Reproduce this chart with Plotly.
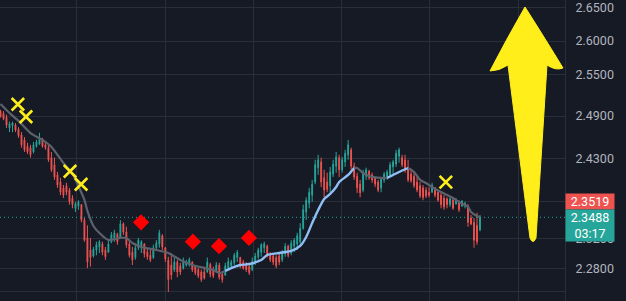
import math
import plotly.graph_objects as go

# ---------------- data ----------------
opens = [2.497, 2.494, 2.488, 2.473, 2.476, 2.477, 2.471, 2.463, 2.456, 2.447,
         2.445, 2.439, 2.447, 2.450, 2.456, 2.449, 2.445, 2.431, 2.421, 2.407,
         2.397, 2.389, 2.392, 2.386, 2.375, 2.361, 2.364, 2.366, 2.345, 2.321,
         2.305, 2.297, 2.305, 2.309, 2.313, 2.305, 2.302, 2.316, 2.321, 2.326,
         2.321, 2.340, 2.329, 2.313, 2.302, 2.295, 2.308, 2.308, 2.313, 2.302,
         2.298, 2.295, 2.308, 2.313, 2.324, 2.308, 2.292, 2.285, 2.279, 2.289,
         2.284, 2.281, 2.285, 2.286, 2.289, 2.283, 2.279, 2.276, 2.276, 2.276,
         2.286, 2.279, 2.276, 2.285, 2.273, 2.272, 2.281, 2.284, 2.288, 2.295,
         2.295, 2.289, 2.286, 2.283, 2.279, 2.289, 2.296, 2.302, 2.308, 2.310,
         2.300, 2.297, 2.295, 2.297, 2.292, 2.300, 2.310, 2.301, 2.310, 2.313,
         2.316, 2.334, 2.356, 2.368, 2.379, 2.397, 2.417, 2.425, 2.403, 2.397,
         2.392, 2.408, 2.419, 2.431, 2.414, 2.425, 2.435, 2.442, 2.419, 2.405,
         2.394, 2.386, 2.405, 2.412, 2.407, 2.403, 2.397, 2.389, 2.400, 2.405,
         2.407, 2.418, 2.422, 2.433, 2.431, 2.428, 2.417, 2.408, 2.405, 2.397,
         2.392, 2.389, 2.386, 2.383, 2.383, 2.389, 2.383, 2.379, 2.375, 2.374,
         2.366, 2.372, 2.367, 2.370, 2.364, 2.364, 2.364, 2.348, 2.342, 2.338,
         2.332]
highs = [2.499, 2.497, 2.492, 2.482, 2.482, 2.480, 2.474, 2.467, 2.460, 2.452,
         2.449, 2.453, 2.456, 2.466, 2.459, 2.452, 2.449, 2.439, 2.431, 2.411,
         2.403, 2.393, 2.396, 2.389, 2.379, 2.370, 2.372, 2.367, 2.348, 2.338,
         2.321, 2.309, 2.316, 2.318, 2.316, 2.309, 2.318, 2.329, 2.332, 2.328,
         2.345, 2.342, 2.336, 2.318, 2.309, 2.314, 2.321, 2.318, 2.314, 2.308,
         2.305, 2.312, 2.318, 2.332, 2.326, 2.309, 2.296, 2.301, 2.295, 2.292,
         2.288, 2.295, 2.292, 2.295, 2.290, 2.285, 2.281, 2.279, 2.283, 2.295,
         2.288, 2.283, 2.289, 2.288, 2.276, 2.288, 2.295, 2.292, 2.301, 2.305,
         2.296, 2.292, 2.289, 2.285, 2.295, 2.301, 2.308, 2.314, 2.316, 2.312,
         2.302, 2.301, 2.298, 2.302, 2.305, 2.314, 2.312, 2.318, 2.321, 2.328,
         2.341, 2.366, 2.376, 2.389, 2.400, 2.428, 2.435, 2.431, 2.414, 2.410,
         2.418, 2.428, 2.439, 2.435, 2.432, 2.442, 2.456, 2.445, 2.424, 2.410,
         2.400, 2.414, 2.417, 2.414, 2.410, 2.404, 2.400, 2.404, 2.411, 2.414,
         2.425, 2.428, 2.442, 2.445, 2.435, 2.435, 2.428, 2.414, 2.410, 2.404,
         2.397, 2.393, 2.390, 2.390, 2.396, 2.390, 2.386, 2.383, 2.379, 2.376,
         2.376, 2.375, 2.375, 2.372, 2.372, 2.370, 2.367, 2.352, 2.348, 2.355,
         2.352]
lows = [2.488, 2.484, 2.473, 2.467, 2.467, 2.467, 2.459, 2.445, 2.439, 2.436,
        2.431, 2.437, 2.445, 2.449, 2.445, 2.442, 2.425, 2.411, 2.400, 2.389,
        2.379, 2.375, 2.379, 2.366, 2.361, 2.356, 2.359, 2.342, 2.316, 2.281,
        2.283, 2.295, 2.298, 2.301, 2.298, 2.292, 2.301, 2.314, 2.316, 2.312,
        2.320, 2.325, 2.308, 2.295, 2.285, 2.292, 2.305, 2.301, 2.295, 2.292,
        2.289, 2.293, 2.305, 2.308, 2.305, 2.289, 2.250, 2.266, 2.276, 2.269,
        2.272, 2.279, 2.283, 2.283, 2.276, 2.272, 2.268, 2.263, 2.266, 2.275,
        2.269, 2.268, 2.275, 2.266, 2.262, 2.271, 2.279, 2.281, 2.285, 2.289,
        2.281, 2.279, 2.276, 2.272, 2.277, 2.285, 2.292, 2.296, 2.301, 2.295,
        2.289, 2.285, 2.281, 2.285, 2.289, 2.296, 2.295, 2.298, 2.302, 2.305,
        2.309, 2.332, 2.345, 2.361, 2.370, 2.394, 2.407, 2.390, 2.376, 2.383,
        2.383, 2.404, 2.410, 2.404, 2.410, 2.418, 2.428, 2.414, 2.400, 2.382,
        2.376, 2.383, 2.400, 2.400, 2.396, 2.390, 2.383, 2.383, 2.396, 2.400,
        2.404, 2.407, 2.418, 2.424, 2.418, 2.410, 2.397, 2.396, 2.389, 2.383,
        2.375, 2.372, 2.375, 2.376, 2.382, 2.376, 2.370, 2.361, 2.359, 2.361,
        2.363, 2.359, 2.366, 2.356, 2.363, 2.361, 2.336, 2.338, 2.308, 2.312,
        2.330]
closes = [2.489, 2.486, 2.477, 2.479, 2.480, 2.470, 2.462, 2.449, 2.442, 2.439,
          2.435, 2.449, 2.453, 2.457, 2.447, 2.445, 2.428, 2.414, 2.404, 2.393,
          2.383, 2.379, 2.383, 2.370, 2.366, 2.367, 2.370, 2.345, 2.318, 2.289,
          2.295, 2.306, 2.312, 2.316, 2.302, 2.296, 2.313, 2.325, 2.328, 2.316,
          2.340, 2.329, 2.312, 2.298, 2.292, 2.308, 2.318, 2.316, 2.300, 2.296,
          2.292, 2.308, 2.314, 2.328, 2.309, 2.293, 2.266, 2.272, 2.289, 2.276,
          2.276, 2.290, 2.289, 2.292, 2.279, 2.275, 2.271, 2.266, 2.268, 2.289,
          2.273, 2.271, 2.285, 2.269, 2.266, 2.284, 2.290, 2.289, 2.298, 2.302,
          2.284, 2.281, 2.279, 2.275, 2.290, 2.297, 2.305, 2.312, 2.313, 2.298,
          2.292, 2.289, 2.284, 2.289, 2.301, 2.310, 2.298, 2.314, 2.318, 2.324,
          2.334, 2.359, 2.372, 2.383, 2.394, 2.421, 2.428, 2.397, 2.386, 2.387,
          2.411, 2.422, 2.432, 2.414, 2.428, 2.437, 2.449, 2.419, 2.404, 2.389,
          2.382, 2.410, 2.414, 2.403, 2.400, 2.394, 2.386, 2.401, 2.408, 2.411,
          2.421, 2.425, 2.437, 2.442, 2.421, 2.414, 2.400, 2.399, 2.392, 2.386,
          2.378, 2.376, 2.378, 2.379, 2.393, 2.379, 2.372, 2.366, 2.363, 2.366,
          2.374, 2.361, 2.372, 2.359, 2.371, 2.368, 2.342, 2.340, 2.318, 2.316,
          2.3488]

# moving average, split by colour (gray = falling, blue = rising)
ma_gray1_idx = [0, 3, 6, 10, 14, 17, 21, 24, 26, 28, 29, 31, 33, 36, 40, 42, 44, 47,
                52, 56, 60, 64, 68, 71, 73, 75]
ma_gray1_val = [2.5074, 2.4944, 2.4830, 2.4657, 2.4559, 2.4460, 2.4235, 2.4082,
                2.3916, 2.3724, 2.3574, 2.3371, 2.3277, 2.3183, 2.3210, 2.3210,
                2.3143, 2.3090, 2.3050, 2.3010, 2.2917, 2.2851, 2.2812, 2.2786,
                2.2747, 2.2773]
ma_blue1_idx = [75, 78, 80, 83, 87, 89, 93, 97, 100, 102, 104, 106, 108, 110, 112,
                113, 116, 118]
ma_blue1_val = [2.2773, 2.2825, 2.2851, 2.2864, 2.2917, 2.2983, 2.3010, 2.3037,
                2.3103, 2.3223, 2.3411, 2.3588, 2.3738, 2.3806, 2.3902, 2.3971,
                2.4068, 2.4165]
ma_gray2_idx = [118, 119, 121, 123, 127, 129]
ma_gray2_val = [2.4165, 2.4165, 2.4096, 2.4054, 2.4027, 2.4027]
ma_blue2_idx = [129, 131, 133, 136]
ma_blue2_val = [2.4027, 2.4068, 2.4110, 2.4165]
ma_gray3_idx = [136, 138, 140, 142, 144, 147, 149, 151, 153, 156, 157, 159, 160]
ma_gray3_val = [2.4165, 2.4110, 2.4000, 2.3957, 2.3902, 2.3833, 2.3792, 2.3751,
                2.3697, 2.3630, 2.3561, 2.3506, 2.3490]

# signal markers
cross_idx = [5.8, 8.5, 23.2, 26.9, 148.6]
cross_val = [2.507, 2.489, 2.412, 2.394, 2.397]
diamond_idx = [46.9, 64.2, 72.9, 82.9]
diamond_val = [2.342, 2.316, 2.310, 2.321]

# price axis (2.3700 label sits fully under the price tag in the reference)
y_ticks = [2.25, 2.28, 2.32, 2.37, 2.43, 2.49, 2.55, 2.60, 2.65]
y_ticktext = ["", "2.2800", "2.3200", "", "2.4300", "2.4900", "2.5500",
              "2.6000", "2.6500"]
y_min, y_max = 2.2382, 2.6622

ref_price = 2.3519
last_price = closes[-1]
countdown = "03:17"

# ---------------- styling / layout ----------------
W, H = 626, 301
PLOT_W = 565
BG = "#161A25"
GRID = "#2A2E39"
UP = "#26A69A"
DOWN = "#EF5350"
GRAY_MA = "#5D616C"
BLUE_MA = "#90BFF5"
YELLOW = "#FFEE1A"

n = len(closes)
idx = list(range(n))
bar_px = 479.5 / (n - 1)
x_lo = -0.5 / bar_px
x_hi = (n - 1) + (PLOT_W - 480) / bar_px

fig = go.Figure()

fig.add_trace(go.Scatter(
    x=[x_lo, x_hi], y=[last_price, last_price], mode="lines",
    line=dict(color=UP, width=1, dash="1px,3px"), hoverinfo="skip", showlegend=False))

fig.add_trace(go.Candlestick(
    x=idx, open=opens, high=highs, low=lows, close=closes,
    increasing=dict(line=dict(color=UP, width=1), fillcolor=UP),
    decreasing=dict(line=dict(color=DOWN, width=1), fillcolor=DOWN),
    whiskerwidth=0, hoverinfo="skip", showlegend=False))

for xs, ys, col, w in [(ma_gray1_idx, ma_gray1_val, GRAY_MA, 2.2),
                       (ma_blue1_idx, ma_blue1_val, BLUE_MA, 2.4),
                       (ma_gray2_idx, ma_gray2_val, GRAY_MA, 2.2),
                       (ma_blue2_idx, ma_blue2_val, BLUE_MA, 2.4),
                       (ma_gray3_idx, ma_gray3_val, GRAY_MA, 2.2)]:
    fig.add_trace(go.Scatter(x=xs, y=ys, mode="lines",
                             line=dict(color=col, width=w, shape="spline", smoothing=0.6),
                             hoverinfo="skip", showlegend=False))

fig.add_trace(go.Scatter(
    x=cross_idx, y=cross_val, mode="markers",
    marker=dict(symbol="x-thin", size=12.5, line=dict(color=YELLOW, width=2.6)),
    hoverinfo="skip", showlegend=False))
fig.add_trace(go.Scatter(
    x=diamond_idx, y=diamond_val, mode="markers",
    marker=dict(symbol="diamond", size=12.5, color="#FF0000", line=dict(width=0)),
    hoverinfo="skip", showlegend=False))

# yellow drawn arrow (drawing tool, in plot-area pixel space -> paper)
def P(x, y):
    return f"{x / PLOT_W:.5f},{1 - y / H:.5f}"

arrow_path = (f"M{P(525, 7)} Q{P(546, 40)} {P(563, 68)} Q{P(556, 71)} {P(547, 65)} "
              f"L{P(536, 238)} Q{P(533, 245)} {P(530, 238)} "
              f"L{P(508, 65)} Q{P(499, 71)} {P(490, 71)} Q{P(506, 40)} {P(525, 7)} Z")
fig.add_shape(type="path", path=arrow_path, xref="paper", yref="paper",
              fillcolor=YELLOW, line=dict(color=YELLOW, width=1), layer="above")

fig.add_annotation(xref="paper", yref="paper", x=1, y=1 - 193 / H,
                   xanchor="left", yanchor="top", text=f"{ref_price:.4f}",
                   showarrow=False, bgcolor=DOWN, width=46, height=13, borderpad=1,
                   font=dict(family="Roboto", size=12.5, color="#FFFFFF"))
fig.add_annotation(xref="paper", yref="paper", x=1, y=1 - 209 / H,
                   xanchor="left", yanchor="top",
                   text=f"{last_price:.4f}<br>{countdown}",
                   showarrow=False, bgcolor=UP, width=46, height=29, borderpad=1,
                   font=dict(family="Roboto", size=12.5, color="#FFFFFF"))

fig.update_layout(
    width=W, height=H, autosize=False,
    margin=dict(l=0, r=W - PLOT_W, t=0, b=0),
    paper_bgcolor=BG, plot_bgcolor=BG,
    boxgap=0.6,
    showlegend=False,
    xaxis=dict(range=[x_lo, x_hi], rangeslider=dict(visible=False),
               showticklabels=False, ticks="", zeroline=False,
               showgrid=True, gridcolor=GRID, gridwidth=1,
               tickmode="linear", tick0=25.5, dtick=29.45, fixedrange=True),
    yaxis=dict(type="log", side="right",
               range=[math.log10(y_min), math.log10(y_max)],
               tickmode="array", tickvals=y_ticks, ticktext=y_ticktext,
               showgrid=True, gridcolor=GRID, gridwidth=1, zeroline=False,
               showline=True, linecolor="#2A2E39", linewidth=1,
               ticks="", ticklabelstandoff=7,
               tickfont=dict(family="Roboto", size=12.5, color="#B2B5BE"),
               fixedrange=True),
)

fig.write_html("out.html", config={"displayModeBar": False})
